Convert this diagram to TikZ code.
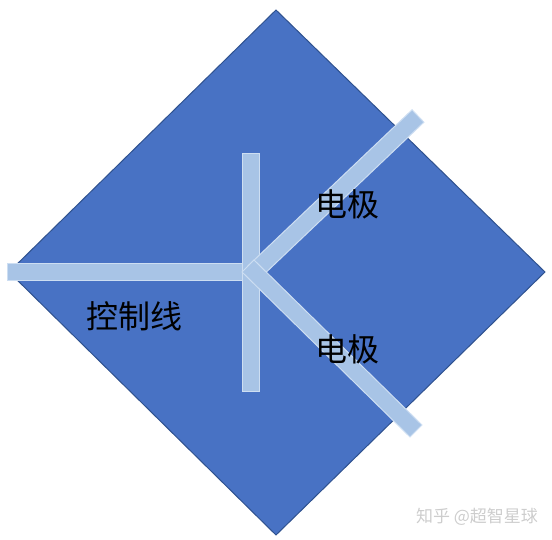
\documentclass[tikz,border=0pt]{standalone}
\usepackage{fontspec}
\usepackage{tikz}
\usetikzlibrary{positioning}
\newfontfamily\cjk{Noto Sans CJK SC}
\definecolor{mblue}{RGB}{72,114,196}
\definecolor{mdark}{RGB}{47,82,143}
\definecolor{mbar}{RGB}{168,196,230}
\definecolor{mbarline}{RGB}{205,222,242}
\definecolor{mgray}{RGB}{205,205,205}
\tikzset{
  bar/.style={fill=mbar, draw=mbarline, line width=1pt},
  txt/.style={font=\cjk\fontsize{32}{32}\selectfont, text=black}
}

\begin{document}
\begin{tikzpicture}[x=1pt, y=-1pt]
    \useasboundingbox (0, 0) rectangle (552, 540);
    \draw [fill=mblue, draw=mdark, line width=1pt] (276, 10) -- (545, 272) -- (276, 535) -- (9, 272) -- cycle;

    \draw [bar] (7, 264) rectangle (245, 281);
    \draw [bar] (242, 154) rectangle (259, 391);
    \draw [bar] (248.1, 265.8) -- (412.1, 109.8) -- (423.9, 122.2) -- (259.9, 278.2) -- cycle; % upper electrode
    \draw [bar] (242, 272) -- (254, 260) -- (422, 425) -- (410, 437) -- cycle; % lower electrode

    \node [txt] (top) at (347, 204) {电极};
    \node [txt] (bottom) at (347, 349) {电极};
    \node [txt] (ctrl) at (134, 316) {控制线};
    \node [font=\cjk\fontsize{17}{17}\selectfont, text=mgray] (mark) at (477, 517) {知乎 @超智星球};
  \end{tikzpicture}
\end{document}
